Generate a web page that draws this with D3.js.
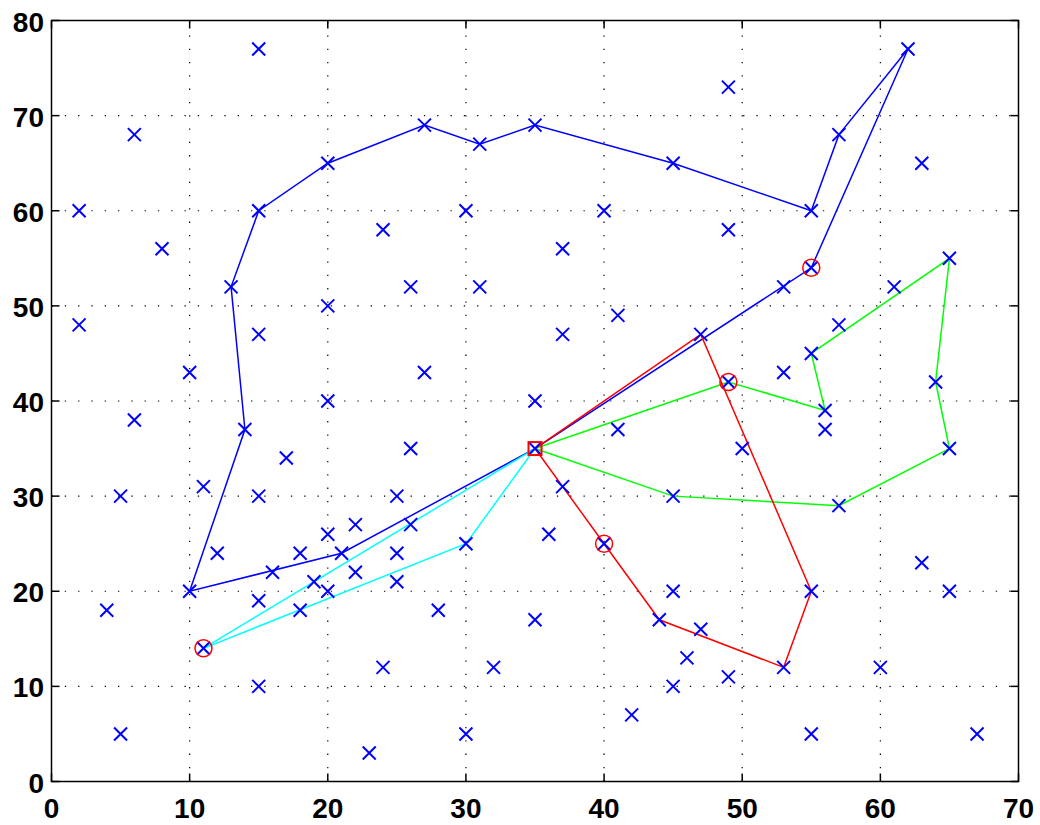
<!DOCTYPE html>
<html>
<head>
<meta charset="utf-8">
<script src="https://cdn.jsdelivr.net/npm/d3@7"></script>
<style>
  html, body { margin: 0; padding: 0; background: #fff; }
  svg { display: block; }
</style>
</head>
<body>
<svg id="chart" width="1040" height="825"></svg>
<script>
// Depot and customer locations
const depot = [35, 35];
const customers = [
  [41,49],[35,17],[55,45],[55,20],[15,30],[25,30],[20,50],[10,43],[55,60],[30,60],
  [20,65],[50,35],[30,25],[15,10],[30,5],[10,20],[5,30],[20,40],[15,60],[45,65],
  [45,20],[45,10],[55,5],[65,35],[65,20],[45,30],[35,40],[41,37],[64,42],[40,60],
  [31,52],[35,69],[53,52],[65,55],[63,65],[2,60],[20,20],[5,5],[60,12],[40,25],
  [42,7],[24,12],[23,3],[11,14],[6,38],[2,48],[8,56],[13,52],[6,68],[47,47],
  [49,58],[27,43],[37,31],[57,29],[63,23],[53,12],[32,12],[36,26],[21,24],[17,34],
  [12,24],[24,58],[27,69],[15,77],[62,77],[49,73],[67,5],[56,39],[37,47],[37,56],
  [57,68],[47,16],[44,17],[46,13],[49,11],[49,42],[53,43],[61,52],[57,48],[56,37],
  [55,54],[15,47],[14,37],[11,31],[16,22],[4,18],[28,18],[26,52],[26,35],[31,67],
  [15,19],[22,22],[18,24],[26,27],[25,24],[22,27],[25,21],[19,21],[20,26],[18,18]
];

// Vehicle routes (each starts and ends at the depot)
const routeBlue = [[35,35],[55,54],[62,77],[57,68],[55,60],[45,65],[35,69],[31,67],[27,69],
  [20,65],[15,60],[13,52],[14,37],[10,20],[21,24],[35,35]];
const routeGreen = [[35,35],[49,42],[56,39],[55,45],[65,55],[64,42],[65,35],[57,29],[45,30],[35,35]];
const routeRed = [[35,35],[47,47],[55,20],[53,12],[44,17],[40,25],[35,35]];
const routeCyan = [[35,35],[30,25],[11,14],[35,35]];

// Highlighted customers
const marked = [[55,54],[49,42],[40,25],[11,14]];

const xTicks = [0,10,20,30,40,50,60,70];
const yTicks = [0,10,20,30,40,50,60,70,80];

const svg = d3.select("#chart");
const pLeft = 51.5, pRight = 1018.5, pTop = 20.5, pBottom = 781.5;

const x = d3.scaleLinear().domain([0, 70]).range([pLeft, pRight]);
const y = d3.scaleLinear().domain([0, 80]).range([pBottom, pTop]);

// Dotted grid
const grid = svg.append("g").attr("stroke", "#000").attr("stroke-width", 1.2)
  .attr("stroke-dasharray", "1.3,12");
grid.selectAll("line.gx").data(xTicks.slice(1, -1)).join("line")
  .attr("x1", d => x(d)).attr("x2", d => x(d)).attr("y1", pBottom).attr("y2", pTop);
grid.selectAll("line.gy").data(yTicks.slice(1, -1)).join("line")
  .attr("y1", d => y(d)).attr("y2", d => y(d)).attr("x1", pLeft).attr("x2", pRight);

// Routes
const line = d3.line().x(d => x(d[0])).y(d => y(d[1]));
const routes = [
  { pts: routeBlue, color: "#0000ff" },
  { pts: routeCyan, color: "#00ffff" },
  { pts: routeGreen, color: "#00ff00" },
  { pts: routeRed, color: "#ff0000" }
];
svg.append("g").selectAll("path").data(routes).join("path")
  .attr("d", d => line(d.pts)).attr("fill", "none")
  .attr("stroke", d => d.color).attr("stroke-width", 1.5);

// Customer markers
const s = 6.5;
svg.append("g").attr("stroke", "#0000ff").attr("stroke-width", 2).attr("fill", "none")
  .selectAll("path").data(customers.concat([depot])).join("path")
  .attr("d", d => {
    const cx = x(d[0]), cy = y(d[1]);
    return `M${cx - s},${cy - s}L${cx + s},${cy + s}M${cx - s},${cy + s}L${cx + s},${cy - s}`;
  });

// Marked customers and depot
svg.append("g").selectAll("circle").data(marked).join("circle")
  .attr("cx", d => x(d[0])).attr("cy", d => y(d[1])).attr("r", 8.5)
  .attr("fill", "none").attr("stroke", "#ff0000").attr("stroke-width", 1.5);
svg.append("rect")
  .attr("x", x(depot[0]) - 6.5).attr("y", y(depot[1]) - 6.5)
  .attr("width", 13).attr("height", 13)
  .attr("fill", "none").attr("stroke", "#ff0000").attr("stroke-width", 2);

// Axes box with inward ticks
const axisG = svg.append("g").attr("stroke", "#000").attr("stroke-width", 1.5);
axisG.append("rect").attr("x", pLeft).attr("y", pTop)
  .attr("width", pRight - pLeft).attr("height", pBottom - pTop).attr("fill", "none");
const tl = 8;
xTicks.forEach(t => {
  axisG.append("line").attr("x1", x(t)).attr("x2", x(t)).attr("y1", pBottom).attr("y2", pBottom - tl);
  axisG.append("line").attr("x1", x(t)).attr("x2", x(t)).attr("y1", pTop).attr("y2", pTop + tl);
});
yTicks.forEach(t => {
  axisG.append("line").attr("y1", y(t)).attr("y2", y(t)).attr("x1", pLeft).attr("x2", pLeft + tl);
  axisG.append("line").attr("y1", y(t)).attr("y2", y(t)).attr("x1", pRight).attr("x2", pRight - tl);
});

// Tick labels
const font = "'Liberation Sans', Arial, Helvetica, sans-serif";
svg.append("g").selectAll("text").data(xTicks).join("text")
  .attr("x", d => x(d)).attr("y", 818).attr("text-anchor", "middle")
  .attr("font-family", font).attr("font-weight", "bold").attr("font-size", 28)
  .text(d => d);
svg.append("g").selectAll("text").data(yTicks).join("text")
  .attr("x", 44).attr("y", d => y(d) + 11).attr("text-anchor", "end")
  .attr("font-family", font).attr("font-weight", "bold").attr("font-size", 28)
  .text(d => d);
</script>
</body>
</html>
